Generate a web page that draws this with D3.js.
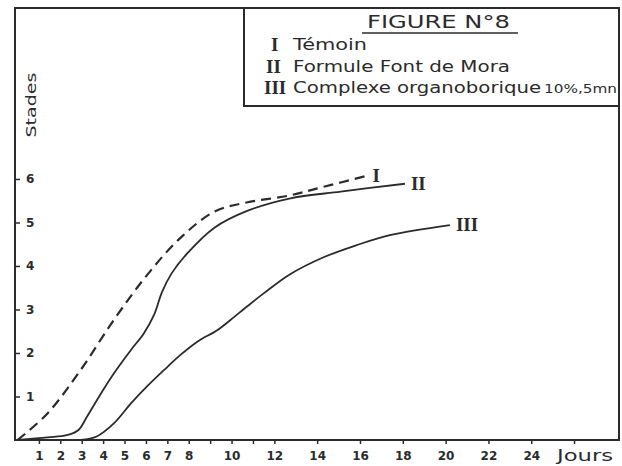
<html>
<head>
    <script src="https://d3js.org/d3.v7.min.js"></script>
    <style>
        body { margin: 0; background: #fff; }
        svg text { fill: #2b2b2b; font-family: "DejaVu Sans", sans-serif; }
        .axis .domain { stroke: none; }
        .axis line { stroke: #2b2b2b; stroke-width: 1.5; }
        .axis text { font-size: 12px; font-weight: bold; }
        .roman { font-family: "Liberation Serif", serif !important; }
    </style>
</head>

<body>
    <svg width="622" height="466"></svg>

    <script>
        const width = 622, height = 466;
        const frame = { left: 15, top: 8, right: 619, bottom: 440 };

        // curve I : Témoin (dashed)
        const days1   = [0, 1.4, 2.95, 4.5, 6.05, 7.6, 9.2, 10.7, 12.7, 14.3, 16.3];
        const stages1 = [0, 0.61, 1.61, 2.76, 3.79, 4.64, 5.25, 5.46, 5.62, 5.82, 6.07];

        // curve II : Formule Font de Mora
        const days2   = [0, 1.4, 2.3, 2.85, 3.25, 3.9, 4.5, 5.3, 5.9, 6.4, 6.75, 7.2, 7.95, 9.2, 10.7, 12.7, 15.1, 18.1];
        const stages2 = [0, 0.06, 0.11, 0.23, 0.54, 1.07, 1.53, 2.07, 2.45, 2.9, 3.4, 3.83, 4.3, 4.88, 5.26, 5.55, 5.71, 5.89];

        // curve III : Complexe organoborique
        const days3   = [2.95, 3.7, 4.5, 5.3, 6.05, 6.85, 7.6, 8.4, 9.35, 9.95, 10.75, 11.5, 12.7, 14.3, 15.85, 17.4, 20.2];
        const stages3 = [0, 0.08, 0.38, 0.84, 1.23, 1.61, 1.95, 2.26, 2.53, 2.76, 3.08, 3.37, 3.8, 4.2, 4.48, 4.71, 4.94];

        const xTicks = [1, 2, 3, 4, 5, 6, 7, 8, 9, 10, 11, 12, 14, 16, 18, 20, 22, 24, 26];
        const xLabels = [1, 2, 3, 4, 5, 6, 7, 8, 10, 12, 14, 16, 18, 20, 22, 24];
        const yTicks = [1, 2, 3, 4, 5, 6];

        const svg = d3.select("svg");

        const xScale = d3.scaleLinear().domain([0, 28.1]).range([17.5, frame.right]);
        const yScale = d3.scaleLinear().domain([0, 9.93]).range([frame.bottom, frame.top]);

        // frame
        svg.append("rect")
           .attr("x", frame.left).attr("y", frame.top)
           .attr("width", frame.right - frame.left)
           .attr("height", frame.bottom - frame.top)
           .attr("fill", "none")
           .attr("stroke", "#2b2b2b")
           .attr("stroke-width", 2);

        // x axis
        svg.append("g")
           .attr("class", "axis")
           .attr("transform", `translate(0,${frame.bottom})`)
           .call(d3.axisBottom(xScale)
                .tickValues(xTicks)
                .tickSize(4)
                .tickPadding(7)
                .tickFormat(d => xLabels.includes(d) ? d : ""));

        svg.append("text")
           .attr("x", 557).attr("y", 461)
           .attr("font-size", 16)
           .attr("textLength", 56)
           .attr("lengthAdjust", "spacingAndGlyphs")
           .text("Jours");

        // y axis, ticks inside the frame
        svg.append("g")
           .attr("class", "axis")
           .attr("transform", `translate(${frame.left},0)`)
           .call(d3.axisRight(yScale)
                .tickValues(yTicks)
                .tickSize(5)
                .tickPadding(6));

        svg.append("text")
           .attr("transform", "translate(36,105) rotate(-90)")
           .attr("text-anchor", "middle")
           .attr("font-size", 14)
           .attr("textLength", 65)
           .attr("lengthAdjust", "spacingAndGlyphs")
           .text("Stades");

        // curves
        const line = d3.line()
                       .x(d => xScale(d[0]))
                       .y(d => yScale(d[1]))
                       .curve(d3.curveCatmullRom.alpha(0.5));

        const curves = [
            { pts: d3.zip(days1, stages1), dash: "10,6" },
            { pts: d3.zip(days2, stages2), dash: null },
            { pts: d3.zip(days3, stages3), dash: null }
        ];

        svg.selectAll(".curve")
           .data(curves)
           .enter().append("path")
           .attr("class", "curve")
           .attr("d", d => line(d.pts))
           .attr("fill", "none")
           .attr("stroke", "#2b2b2b")
           .attr("stroke-width", d => d.dash ? 2.2 : 1.8)
           .attr("stroke-dasharray", d => d.dash);

        // curve end labels
        const endLabels = ["I", "II", "III"];
        svg.selectAll(".endlab")
           .data(curves)
           .enter().append("text")
           .attr("class", "endlab roman")
           .attr("x", d => xScale(d.pts[d.pts.length - 1][0]) + 6)
           .attr("y", d => yScale(d.pts[d.pts.length - 1][1]) + 6)
           .attr("font-size", 19)
           .attr("font-weight", "bold")
           .text((d, i) => endLabels[i]);

        // legend box
        svg.append("rect")
           .attr("x", 244).attr("y", frame.top)
           .attr("width", frame.right - 244)
           .attr("height", 106 - frame.top)
           .attr("fill", "#fff")
           .attr("stroke", "#2b2b2b")
           .attr("stroke-width", 2);

        svg.append("text")
           .attr("x", 367).attr("y", 28)
           .attr("font-size", 17)
           .attr("textLength", 143)
           .attr("lengthAdjust", "spacingAndGlyphs")
           .text("FIGURE N°8");

        svg.append("line")
           .attr("x1", 362).attr("x2", 518)
           .attr("y1", 33).attr("y2", 33)
           .attr("stroke", "#2b2b2b")
           .attr("stroke-width", 1.5);

        const legendNames = ["Témoin", "Formule Font de Mora", "Complexe organoborique"];
        const legendLengths = [74, 217, 248];
        const legendY = [50, 72, 93];
        const legendNumX = [271, 266, 264];

        legendNames.forEach((name, i) => {
            svg.append("text")
               .attr("class", "roman")
               .attr("x", legendNumX[i]).attr("y", legendY[i] + 1)
               .attr("font-size", 19)
               .attr("font-weight", "bold")
               .text(endLabels[i]);
            svg.append("text")
               .attr("x", 293).attr("y", legendY[i])
               .attr("font-size", 16)
               .attr("textLength", legendLengths[i])
               .attr("lengthAdjust", "spacingAndGlyphs")
               .text(name);
        });

        svg.append("text")
           .attr("x", 544).attr("y", 93)
           .attr("font-size", 12)
           .attr("textLength", 73)
           .attr("lengthAdjust", "spacingAndGlyphs")
           .text("10%,5mn");
    </script>
</body>
</html>
